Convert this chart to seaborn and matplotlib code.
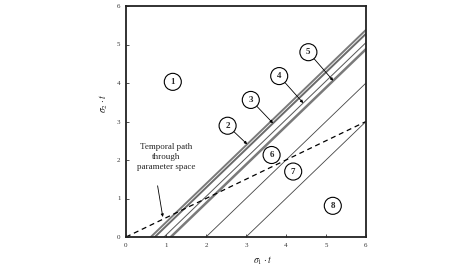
import numpy as np
import pandas as pd
import matplotlib
matplotlib.use("Agg")
import matplotlib.pyplot as plt
import seaborn as sns

# ---- data ----
x_max = 6.0
boundary_names = ["b2", "b3", "b4", "b5", "b67", "b78"]
boundary_intercepts = [0.62, 0.72, 0.95, 1.12, 2.0, 3.0]
path_slope = 0.5

region_labels = ["1", "6", "7", "8"]
region_x = [1.17, 3.64, 4.18, 5.17]
region_y = [4.03, 2.13, 1.70, 0.81]

line_labels = ["2", "3", "4", "5"]
label_x = [2.54, 3.12, 3.83, 4.56]
label_y = [2.89, 3.56, 4.18, 4.80]
target_x = [3.03, 3.675, 4.43, 5.18]
target_line = [0, 1, 2, 3]

ticks = [0, 1, 2, 3, 4, 5, 6]

# ---- styles ----
line_widths = {"b2": 1.4, "b3": 1.4, "b4": 0.7, "b5": 1.8, "b67": 0.6, "b78": 0.6}
line_colors = {"b2": "#7a7a7a", "b3": "#6a6a6a", "b4": "#555555", "b5": "#7a7a7a",
               "b67": "#444444", "b78": "#444444"}

sns.set_style("white")
plt.rcParams["font.family"] = ["Liberation Serif", "DejaVu Serif"]
plt.rcParams["mathtext.fontset"] = "stix"

fig = plt.figure(figsize=(4.74, 2.66), dpi=100)
ax = fig.add_axes([126 / 474, 29 / 266, 240 / 474, 231 / 266])

rows = []
for name, c in zip(boundary_names, boundary_intercepts):
    rows.append({"name": name, "x": c, "y": 0.0})
    rows.append({"name": name, "x": x_max, "y": x_max - c})
df = pd.DataFrame(rows)

for name in boundary_names:
    sns.lineplot(data=df[df["name"] == name], x="x", y="y", ax=ax,
                 color=line_colors[name], lw=line_widths[name], legend=False,
                 estimator=None, sort=False)

path_df = pd.DataFrame({"x": [0.0, x_max], "y": [0.0, path_slope * x_max]})
sns.lineplot(data=path_df, x="x", y="y", ax=ax, color="black", lw=0.9,
             dashes=False, legend=False, estimator=None)
ax.lines[-1].set_dashes([4, 3])

circle_box = dict(boxstyle="circle,pad=0.5", fc="white", ec="black", lw=0.8)

for lbl, rx, ry in zip(region_labels, region_x, region_y):
    ax.text(rx, ry, lbl, ha="center", va="center", fontsize=6.5, fontweight="bold",
            bbox=circle_box, zorder=5)

for lbl, lx, ly, tx, li in zip(line_labels, label_x, label_y, target_x, target_line):
    ty = tx - boundary_intercepts[li]
    ax.annotate(lbl, xy=(tx, ty), xytext=(lx, ly), ha="center", va="center",
                fontsize=6.5, fontweight="bold", bbox=circle_box, zorder=5,
                arrowprops=dict(arrowstyle="-|>", mutation_scale=4, lw=0.6,
                                color="black", shrinkA=0, shrinkB=0))

ax.text(1.0, 2.07, "Temporal path\nthrough\nparameter space", ha="center",
        va="center", fontsize=6.5, linespacing=1.35)
ax.annotate("", xy=(0.92, 0.52), xytext=(0.79, 1.33),
            arrowprops=dict(arrowstyle="-|>", mutation_scale=4, lw=0.6,
                            color="black", shrinkA=0, shrinkB=0))

ax.set_xlim(0, x_max)
ax.set_ylim(0, x_max)
ax.set_xticks(ticks)
ax.set_yticks(ticks)
ax.set_xticklabels([str(t) for t in ticks])
ax.set_yticklabels([str(t) for t in ticks])
ax.tick_params(direction="in", length=2, width=0.6, labelsize=5, pad=4,
               colors="#333333", bottom=True, left=True)
for s in ax.spines.values():
    s.set_visible(True)
    s.set_color("#222222")
    s.set_linewidth(1.3)

ax.set_xlabel(r"$\sigma_1 \cdot t$", fontsize=7)
ax.set_ylabel(r"$\sigma_2 \cdot t$", fontsize=7)
ax.xaxis.set_label_coords(0.57, -0.075)
ax.yaxis.set_label_coords(-0.065, 0.58)

fig.savefig("out.png", dpi=100)
